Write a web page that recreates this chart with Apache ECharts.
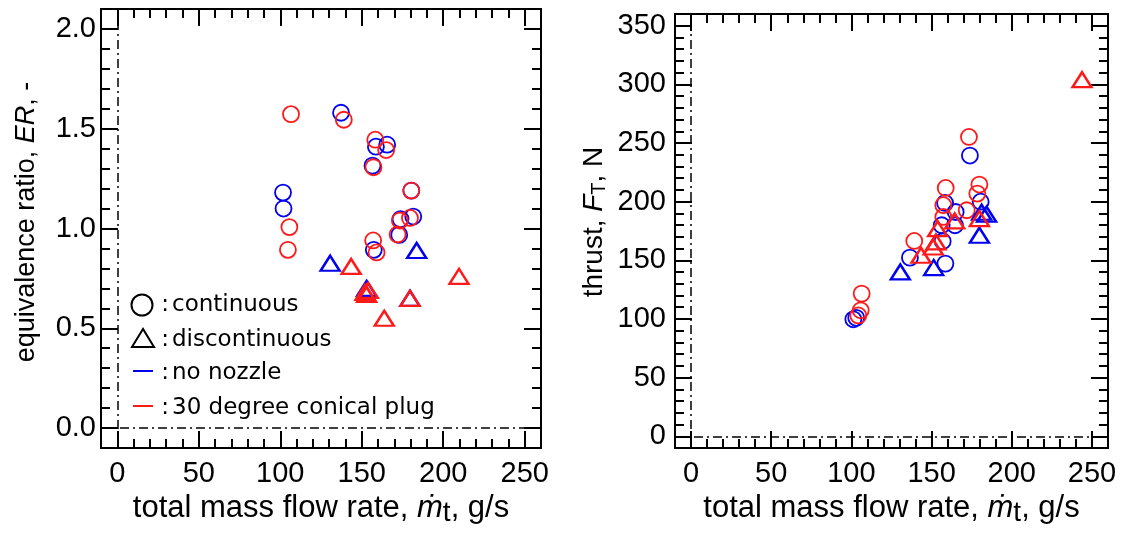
<!DOCTYPE html>
<html>
<head>
<meta charset="utf-8">
<script src="https://cdn.jsdelivr.net/npm/echarts@6/dist/echarts.min.js"></script>
<style>
  html, body { margin: 0; padding: 0; background: #fff; }
  #main { width: 1125px; height: 533px; }
</style>
</head>
<body>
<div id="main"></div>
<script>
// tick values
const xMajor = [0, 50, 100, 150, 200, 250];
const erMajor = [0, 0.5, 1.0, 1.5, 2.0];
const ftMajor = [0, 50, 100, 150, 200, 250, 300, 350];

// left: equivalence ratio vs total mass flow rate
const blueCircleER = [[101.7, 1.18], [102, 1.10], [137.3, 1.58], [158.7, 1.41], [165.6, 1.42], [156.6, 1.315],
  [180.4, 1.19], [181.6, 1.06], [173.8, 1.047], [173, 0.968], [157.4, 0.893]];
const redCircleER = [[106.6, 1.573], [139, 1.545], [158.3, 1.445], [165, 1.393], [157.2, 1.307], [180.4, 1.19],
  [105.6, 1.007], [104.7, 0.893], [173.4, 1.04], [179.6, 1.053], [172, 0.97], [157, 0.94], [159.1, 0.88]];
const blueTriER = [[130.6, 0.826], [183.7, 0.89], [153, 0.70], [179.6, 0.65]];
const redTriER = [[143.5, 0.81], [209.7, 0.76], [152, 0.68], [153, 0.67], [154, 0.69], [179.6, 0.65], [163.8, 0.55]];

// right: thrust vs total mass flow rate
const blueCircleFT = [[101.2, 99.7], [103, 101], [136.5, 152.3], [158.6, 147.2], [156.9, 166.2], [164.6, 179.9],
  [165, 191.2], [156.3, 179.9], [158.4, 198.9], [180.6, 200], [173.9, 239.3]];
const redCircleFT = [[104.3, 103], [105.8, 107.4], [106.4, 121.6], [139.2, 166.5], [157.3, 187], [157.3, 197],
  [158.8, 211.7], [171.9, 192.7], [178.5, 206.9], [179.8, 214.6], [173.3, 255.2]];
const blueTriFT = [[130.5, 140.1], [151.3, 143.8], [179.8, 171.4], [181.2, 191], [184.3, 189.3]];
const redTriFT = [[143.4, 154.3], [151, 161.4], [152.7, 165.7], [153.8, 177], [164.4, 183.6], [179.8, 185.6], [243.8, 304]];

const BLUE = "#0000ee";
const RED = "#ff1a1a";
const FONT = "Liberation Sans, Arial, sans-serif";
const LFONT = "DejaVu Sans, sans-serif";

function minorOf(major, step) {
  const out = [];
  for (let i = 0; i < major.length - 1; i++) {
    for (let k = 1; k < 5; k++) out.push(+(major[i] + k * step).toFixed(4));
  }
  return out;
}

// one side of the frame: major ticks (+labels) and minor ticks as two stacked axes
function sideAxes(grid, pos, min, max, major, minor, label, name) {
  const base = {
    type: "value", gridIndex: grid, position: pos, min: min, max: max,
    axisLine: { show: true, onZero: false, lineStyle: { color: "#000", width: 2 } },
    splitLine: { show: false }
  };
  const a = Object.assign({}, base, {
    axisTick: { show: true, inside: true, length: 17, customValues: major, lineStyle: { color: "#000", width: 2 } },
    axisLabel: label
      ? Object.assign({ show: true, customValues: major, color: "#000", fontSize: 29, fontFamily: FONT }, label)
      : { show: false }
  });
  if (name) Object.assign(a, name);
  const b = Object.assign({}, base, {
    axisTick: { show: true, inside: true, length: 9, customValues: minor, lineStyle: { color: "#000", width: 2 } },
    axisLabel: { show: false }
  });
  return [a, b];
}

const nameStyle = { color: "#000", fontFamily: FONT };
const xName = {
  name: "total mass flow rate, {i|ṁ}{s|t}{a|, g/s}",
  nameLocation: "middle", nameGap: 39,
  nameTextStyle: Object.assign({}, nameStyle, {
    fontSize: 31,
    rich: { i: { fontStyle: "italic", fontSize: 31 }, s: { fontSize: 28, padding: [10, 0, 0, 0] }, a: { fontSize: 31 } }
  })
};

const xMinor = minorOf(xMajor, 10);
const erMinor = minorOf(erMajor, 0.1);
const ftMinor = minorOf(ftMajor, 10);

const xAxis = [].concat(
  sideAxes(0, "bottom", -10, 260, xMajor, xMinor, { margin: 11 }, xName),
  sideAxes(0, "top", -10, 260, xMajor, xMinor),
  sideAxes(1, "bottom", -10, 260, xMajor, xMinor, { margin: 11 }, xName),
  sideAxes(1, "top", -10, 260, xMajor, xMinor)
);
const yAxis = [].concat(
  sideAxes(0, "left", -0.1, 2.1, erMajor, erMinor, { margin: 5, formatter: v => v.toFixed(1) }, {
    name: "equivalence ratio, {i|ER}{a|, -}", nameLocation: "middle", nameGap: 61,
    nameTextStyle: Object.assign({}, nameStyle, { fontSize: 27, padding: [0, 0, 0, 13], rich: { i: { fontStyle: "italic", fontSize: 27 }, a: { fontSize: 27 } } })
  }),
  sideAxes(0, "right", -0.1, 2.1, erMajor, erMinor),
  sideAxes(1, "left", -10, 360, ftMajor, ftMinor, { margin: 9 }, {
    name: "thrust, {i|F}{s|T}{a|, N}", nameLocation: "middle", nameGap: 66,
    nameTextStyle: Object.assign({}, nameStyle, { fontSize: 28, padding: [0, 0, 0, 18], rich: { i: { fontStyle: "italic", fontSize: 28 }, s: { fontSize: 20, padding: [10, 0, 0, 0] }, a: { fontSize: 28 } } })
  }),
  sideAxes(1, "right", -10, 360, ftMajor, ftMinor)
);

function scatter(grid, data, shape, color) {
  const circ = shape === "circle";
  return {
    type: "scatter", xAxisIndex: grid * 4, yAxisIndex: grid * 4, data: data,
    symbol: circ ? "circle" : "triangle",
    symbolSize: circ ? 16 : [19, 15],
    itemStyle: { color: "rgba(0,0,0,0)", borderColor: color, borderWidth: circ ? 1.8 : 2.4, opacity: 1 },
    silent: true, animation: false
  };
}

function zeroLines(grid) {
  return {
    type: "scatter", xAxisIndex: grid * 4, yAxisIndex: grid * 4, data: [],
    markLine: {
      silent: true, symbol: ["none", "none"], animation: false, label: { show: false },
      lineStyle: { color: "#000", width: 1.5, type: [9, 4, 2, 4] },
      data: [{ xAxis: 0 }, { yAxis: 0 }]
    }
  };
}

function legendRow(y, icon, text) {
  return [icon,
    { type: "text", x: 165, y: y, style: { text: ":", font: "23px " + LFONT, fill: "#000", align: "center", verticalAlign: "middle" } },
    { type: "text", x: 172, y: y, style: { text: text, font: "23px " + LFONT, fill: "#000", verticalAlign: "middle" } }];
}

const graphic = [].concat(
  legendRow(305, { type: "circle", shape: { cx: 142, cy: 305, r: 10.5 }, style: { fill: "none", stroke: "#000", lineWidth: 2 } }, "continuous"),
  legendRow(340, { type: "polygon", shape: { points: [[143, 329], [132, 347], [154, 347]] }, style: { fill: "none", stroke: "#000", lineWidth: 2 } }, "discontinuous"),
  legendRow(373, { type: "line", shape: { x1: 133, y1: 371, x2: 153, y2: 371 }, style: { stroke: BLUE, lineWidth: 2 } }, "no nozzle"),
  legendRow(408, { type: "line", shape: { x1: 133, y1: 406, x2: 153, y2: 406 }, style: { stroke: RED, lineWidth: 2 } }, "30 degree conical plug")
);

const chart = echarts.init(document.getElementById("main"));
chart.setOption({
  animation: false,
  backgroundColor: "#fff",
  grid: [
    { left: 101, top: 9, width: 440, height: 439 },
    { left: 675, top: 14, width: 433, height: 434 }
  ],
  xAxis: xAxis,
  yAxis: yAxis,
  graphic: graphic,
  series: [
    zeroLines(0),
    scatter(0, blueCircleER, "circle", BLUE),
    scatter(0, redCircleER, "circle", RED),
    scatter(0, blueTriER, "triangle", BLUE),
    scatter(0, redTriER, "triangle", RED),
    zeroLines(1),
    scatter(1, blueCircleFT, "circle", BLUE),
    scatter(1, redCircleFT, "circle", RED),
    scatter(1, blueTriFT, "triangle", BLUE),
    scatter(1, redTriFT, "triangle", RED)
  ]
});
window.addEventListener("resize", function () { chart.resize(); });
</script>
</body>
</html>
